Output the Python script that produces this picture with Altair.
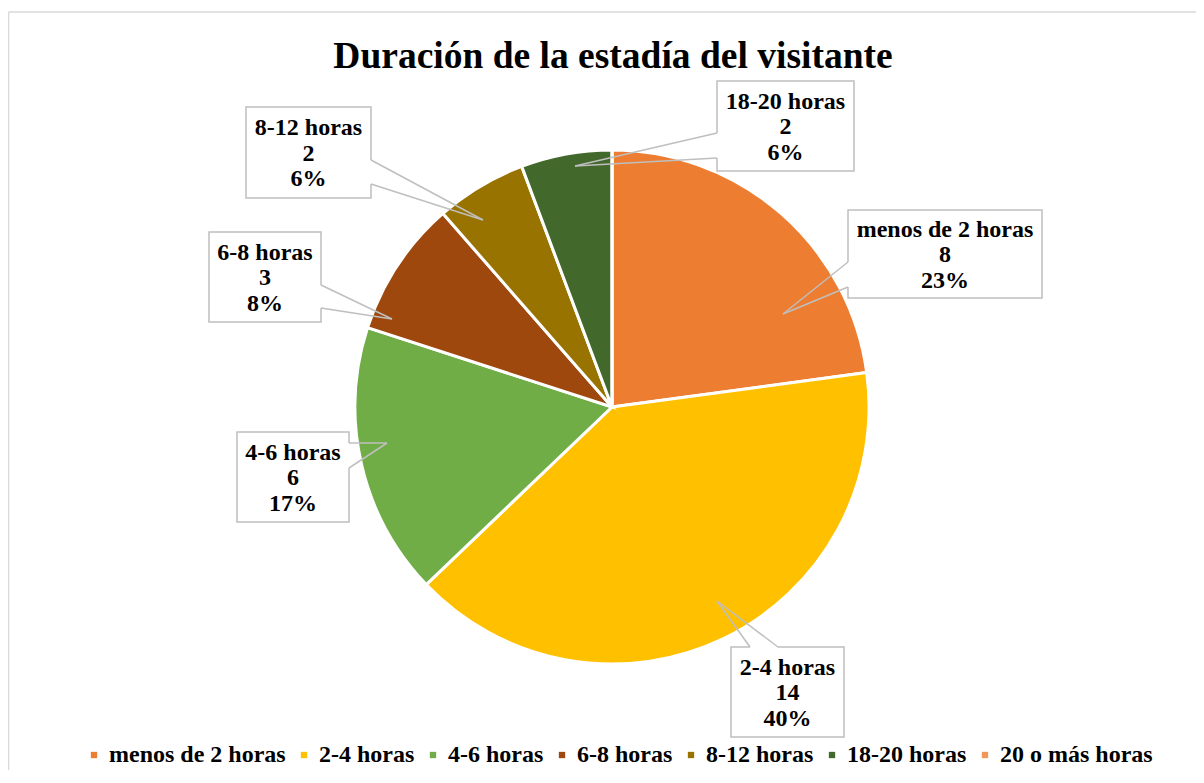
import altair as alt
import pandas as pd

# ---- data ----
categories = ["menos de 2 horas", "2-4 horas", "4-6 horas", "6-8 horas",
              "8-12 horas", "18-20 horas", "20 o más horas"]
values = [8, 14, 6, 3, 2, 2, 0]
pct_labels = ["23%", "40%", "17%", "8%", "6%", "6%", "0%"]
colors = ["#ED7D31", "#FFC000", "#70AD47", "#9E480E", "#997300", "#43682B", "#F1975A"]
title_text = "Duración de la estadía del visitante"

FONT = "Liberation Serif"
FS = 24

# ---- layout (page pixel coordinates) ----
W, H = 1188, 762
CX, CY, R = 612, 407, 257
# callout boxes: x1, y1, x2, y2
box_x1 = [848, 731, 237, 209, 246, 717]
box_y1 = [210, 647, 432, 232, 107, 81]
box_x2 = [1042, 844, 349, 321, 371, 854]
box_y2 = [298, 737, 522, 322, 198, 171]
# pointer base points and tips
base_ax = [848, 750, 349, 321, 371, 717]
base_ay = [262, 647, 443, 285, 160, 133]
base_bx = [848, 778, 349, 321, 371, 717]
base_by = [287, 647, 468, 308, 184, 158]
tip_x = [783, 717, 387, 392, 483, 575]
tip_y = [314, 601, 443, 319, 220, 166]
LINE_H = 25.5

pie_df = pd.DataFrame({"category": categories, "value": values,
                       "idx": list(range(len(categories)))})

n = len(box_x1)
box_df = pd.DataFrame({"x1": box_x1, "y1": box_y1, "x2": box_x2, "y2": box_y2})
gap_df = pd.DataFrame({"x1": base_ax, "y1": base_ay, "x2": base_bx, "y2": base_by})
ptr_rows = []
for i in range(n):
    ptr_rows.append({"x1": base_ax[i], "y1": base_ay[i], "x2": tip_x[i], "y2": tip_y[i]})
    ptr_rows.append({"x1": base_bx[i], "y1": base_by[i], "x2": tip_x[i], "y2": tip_y[i]})
ptr_df = pd.DataFrame(ptr_rows)

txt_rows = []
for i in range(n):
    cx = (box_x1[i] + box_x2[i]) / 2
    cy = (box_y1[i] + box_y2[i]) / 2
    lines = [categories[i], str(values[i]), pct_labels[i]]
    for j, t in enumerate(lines):
        txt_rows.append({"x": cx, "y": cy + (j - 1) * LINE_H + 1, "t": t})
txt_df = pd.DataFrame(txt_rows)

xs = alt.Scale(domain=[8, 8 + W])
ys = alt.Scale(domain=[8, 8 + H], reverse=True)

border = alt.Chart(pd.DataFrame({"a": [0]})).mark_rule(color="#D9D9D9", strokeWidth=1.5).encode(
    x=alt.value(0.5), y=alt.value(4), y2=alt.value(H + 20))
border_top = alt.Chart(pd.DataFrame({"a": [0]})).mark_rule(color="#D9D9D9", strokeWidth=1.5).encode(
    x=alt.value(0.5), x2=alt.value(W + 20), y=alt.value(4))

pie = alt.Chart(pie_df).mark_arc(outerRadius=R, stroke="white", strokeWidth=3).encode(
    theta=alt.Theta("value:Q", stack=True),
    order=alt.Order("idx:Q"),
    color=alt.Color("category:N",
                    scale=alt.Scale(domain=categories, range=colors),
                    sort=categories,
                    legend=alt.Legend(title=None, orient="none", legendX=74, legendY=735,
                                      direction="horizontal", symbolType="square",
                                      symbolSize=40, symbolStrokeWidth=0,
                                      labelFont=FONT, labelFontSize=FS,
                                      labelFontWeight="bold", labelColor="black",
                                      labelOffset=3, columnPadding=6, padding=0,
                                      labelLimit=400)),
    x=alt.value(CX - 8), y=alt.value(CY - 8),
)

boxes = alt.Chart(box_df).mark_rect(fill="white", stroke="#BFBFBF", strokeWidth=1.5).encode(
    x=alt.X("x1:Q", scale=xs, axis=None), x2="x2:Q",
    y=alt.Y("y1:Q", scale=ys, axis=None), y2="y2:Q")

gaps = alt.Chart(gap_df).mark_rule(color="white", strokeWidth=3).encode(
    x=alt.X("x1:Q", scale=xs, axis=None), x2="x2:Q",
    y=alt.Y("y1:Q", scale=ys, axis=None), y2="y2:Q")

ptrs = alt.Chart(ptr_df).mark_rule(color="#BFBFBF", strokeWidth=1.5).encode(
    x=alt.X("x1:Q", scale=xs, axis=None), x2="x2:Q",
    y=alt.Y("y1:Q", scale=ys, axis=None), y2="y2:Q")

texts = alt.Chart(txt_df).mark_text(font=FONT, fontSize=FS, fontWeight="bold",
                                    color="black", baseline="middle", align="center").encode(
    x=alt.X("x:Q", scale=xs, axis=None), y=alt.Y("y:Q", scale=ys, axis=None), text="t:N")

title = alt.Chart(pd.DataFrame({"t": [title_text]})).mark_text(
    font=FONT, fontSize=37.5, fontWeight="bold", color="black",
    baseline="alphabetic", align="center").encode(
    x=alt.value(613 - 8), y=alt.value(68 - 8), text="t:N")

chart = alt.layer(border, border_top, pie, boxes, gaps, ptrs, texts, title).properties(
    width=W, height=H, padding=0, autosize="none"
).configure_view(stroke=None)

chart.save("out.html", embed_options={"renderer": "svg", "actions": False})
